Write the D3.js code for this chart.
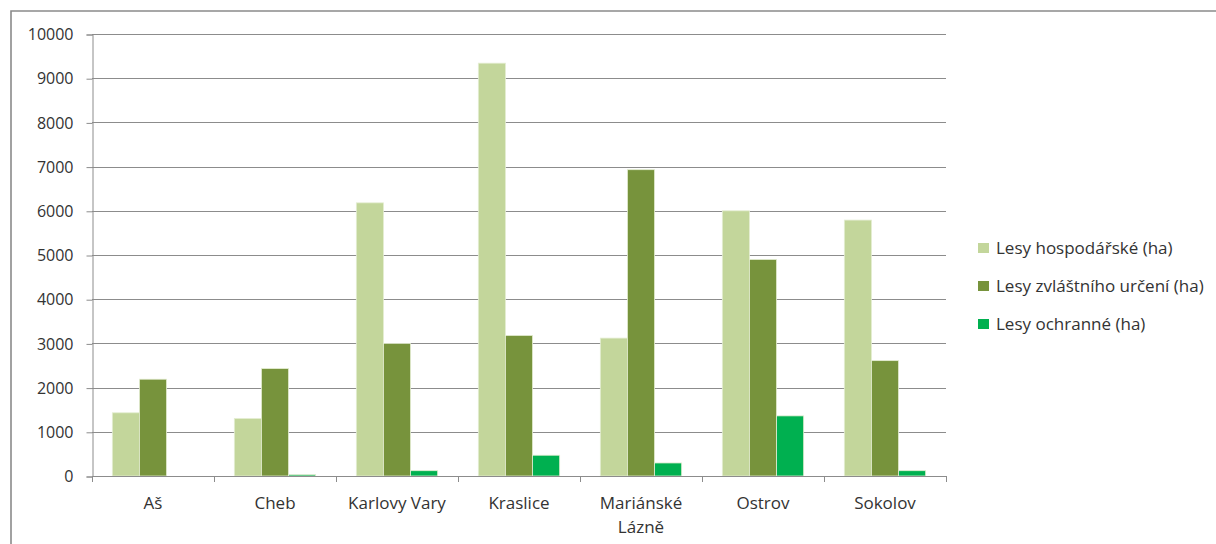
<!DOCTYPE html>
<html>
<head>
<meta charset="utf-8">
<script src="https://cdn.jsdelivr.net/npm/d3@7"></script>
<style>
html,body{margin:0;padding:0;background:#fff;}
svg{display:block;}
text{font-family:"Open Sans",Lato,sans-serif;}
</style>
</head>
<body>
<svg id="chart" width="1216" height="544"></svg>
<script>
const categories = ["Aš", "Cheb", "Karlovy Vary", "Kraslice", "Mariánské Lázně", "Ostrov", "Sokolov"];
const seriesNames = ["Lesy hospodářské (ha)", "Lesy zvláštního určení (ha)", "Lesy ochranné (ha)"];
const hospodarske = [1430, 1300, 6180, 9340, 3120, 6000, 5790];
const zvlastniUrceni = [2190, 2430, 3000, 3180, 6930, 4900, 2610];
const ochranne = [0, 30, 120, 470, 295, 1360, 120];
const yTicks = [0, 1000, 2000, 3000, 4000, 5000, 6000, 7000, 8000, 9000, 10000];
const colors = ["#C3D69B", "#77933C", "#00B050"];

(function () {
const series = [hospodarske, zvlastniUrceni, ochranne];
const svg = d3.select("#chart");
const FONT = '"Open Sans", Lato, sans-serif';

// outer frame
svg.append("path").attr("d", "M11,544 V11 H1216")
  .attr("fill", "none").attr("stroke", "#8a8a8a").attr("stroke-width", 1.6);

const pL = 92, pR = 946, pT = 34, pB = 476;
const x = d3.scaleBand().domain(categories).range([pL, pR]).paddingInner(0).paddingOuter(0);
const x1 = d3.scaleBand().domain([0,1,2]).range([0, x.bandwidth()]).paddingInner(0).paddingOuter(0.75);
const y = d3.scaleLinear().domain([0, 10000]).range([pB, pT]);

// gridlines
svg.append("g").selectAll("line").data(yTicks).join("line")
  .attr("x1", pL).attr("x2", pR)
  .attr("y1", d => Math.round(y(d)) + 0.5).attr("y2", d => Math.round(y(d)) + 0.5)
  .attr("stroke", "#8c8c8c").attr("stroke-width", 1);

// y axis
const yAxis = d3.axisLeft(y).tickValues(yTicks).tickSize(6).tickPadding(13).tickFormat(d3.format("d"));
const gy = svg.append("g").attr("transform", `translate(${pL + 0.5},0.5)`).call(yAxis);
gy.select(".domain").attr("stroke", "#8c8c8c");
gy.selectAll(".tick line").attr("stroke", "#8c8c8c");
gy.selectAll(".tick text").attr("fill", "#333333").style("font-size", "16px").attr("font-family", FONT);

// bars
const groups = svg.append("g").selectAll("g").data(categories).join("g")
  .attr("transform", d => `translate(${x(d)},0)`);
groups.selectAll("rect").data((d, i) => series.map((s, k) => ({k, v: s[i]}))).join("rect")
  .attr("x", d => x1(d.k))
  .attr("width", x1.bandwidth())
  .attr("y", d => y(d.v))
  .attr("height", d => pB - y(d.v))
  .attr("fill", d => colors[d.k])
  .attr("stroke", d => d.v > 0 ? "#e4edd2" : "none")
  .attr("stroke-width", 0.8);

// x axis
const xAxis = d3.axisBottom(x).tickSize(0).tickFormat("");
const gx = svg.append("g").attr("transform", `translate(0,${pB + 0.5})`).call(xAxis);
gx.select(".domain").attr("stroke", "#8c8c8c").attr("d", `M${pL},0H${pR}`);
const boundaries = categories.map(c => x(c)).concat([pR]);
svg.append("g").selectAll("line").data(boundaries).join("line")
  .attr("x1", d => Math.round(d) + 0.5).attr("x2", d => Math.round(d) + 0.5)
  .attr("y1", pB).attr("y2", pB + 6)
  .attr("stroke", "#8c8c8c");

// category labels
const labels = svg.append("g").selectAll("text").data(categories).join("text")
  .attr("x", d => x(d) + x.bandwidth() / 2)
  .attr("y", 509)
  .attr("text-anchor", "middle")
  .attr("fill", "#333333")
  .style("font-size", "17px");
labels.each(function(d) {
  const t = d3.select(this);
  const parts = d === "Mariánské Lázně" ? ["Mariánské", "Lázně"] : [d];
  parts.forEach((p, i) => {
    t.append("tspan").attr("x", x(d) + x.bandwidth() / 2).attr("dy", i === 0 ? 0 : 24).text(p);
  });
});

// legend
const legend = svg.append("g").selectAll("g").data(seriesNames).join("g")
  .attr("transform", (d, i) => `translate(978,${243 + i * 38})`);
legend.append("rect").attr("width", 11).attr("height", 10).attr("fill", (d, i) => colors[i]);
legend.append("text").attr("x", 18).attr("y", 10.5).attr("fill", "#333333")
  .style("font-size", "17px").text(d => d);
})();
</script>
</body>
</html>
